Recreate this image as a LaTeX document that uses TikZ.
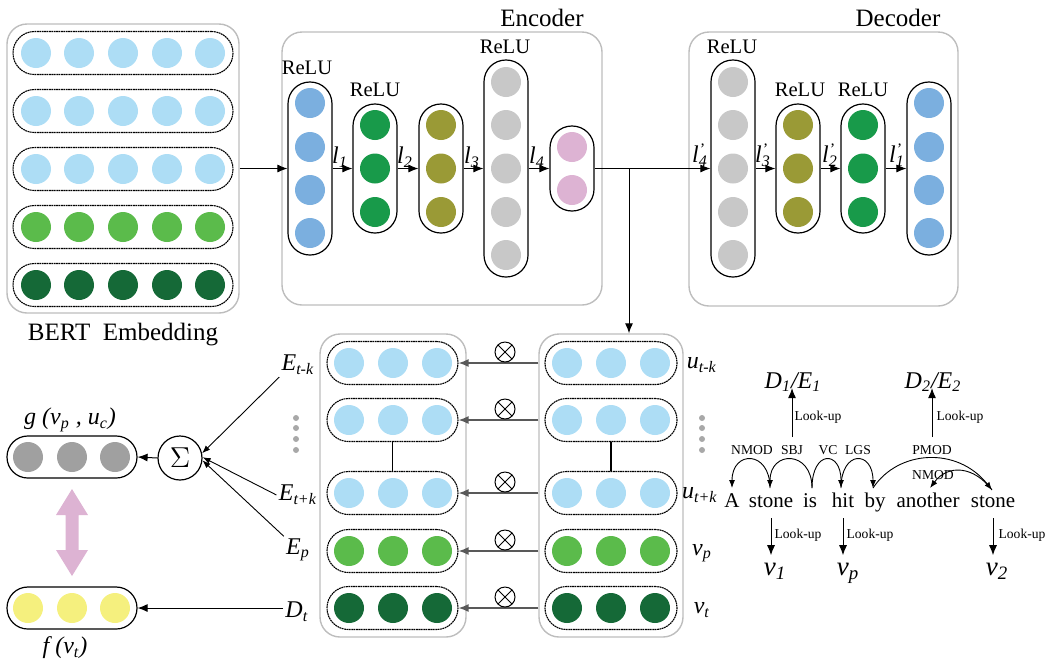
\documentclass[tikz,border=0pt]{standalone}
\usepackage{fontspec}
\setmainfont{Liberation Serif}
\usetikzlibrary{arrows.meta}
\newcommand\fsz[1]{\fontsize{#1}{#1}\selectfont}
\definecolor{lblue}{HTML}{ADDDF5}
\definecolor{lgreen}{HTML}{5BBB4B}
\definecolor{dgreen}{HTML}{156937}
\definecolor{encblue}{HTML}{7BAFDF}
\definecolor{encgreen}{HTML}{189A4A}
\definecolor{olive}{HTML}{9A9A36}
\definecolor{lgray}{HTML}{C8C8C8}
\definecolor{pinkc}{HTML}{DDB3D3}
\definecolor{ggray}{HTML}{A0A0A0}
\definecolor{yel}{HTML}{F5F07E}
\definecolor{boxgray}{HTML}{BDBDBD}
\definecolor{dotgray}{HTML}{A8A8A8}
\begin{document}
\begin{tikzpicture}[x=0.5pt,y=-0.5pt,
  ball/.style={circle,inner sep=0pt,minimum size=15pt,draw=none},
  vcaps/.style={draw,line width=0.6pt,rounded corners=10.9pt,minimum width=22pt,inner sep=0pt},
  hcaps/.style={draw,line width=0.55pt,dash pattern=on 0.9pt off 0.3pt,rounded corners=10.7pt,minimum height=21.5pt,inner sep=0pt},
  scaps/.style={draw,line width=0.6pt,rounded corners=10.4pt,minimum height=21pt,minimum width=65pt,inner sep=0pt},
  outer/.style={draw=boxgray,line width=0.7pt,rounded corners=10pt,inner sep=0pt},
  arr/.style={-{Latex[length=5pt,width=4pt]},line width=0.5pt},
  tarr/.style={-{Latex[length=4pt,width=3pt]},line width=0.45pt},
  relu/.style={font=\fsz{10.3},inner sep=0pt},
  ttl/.style={font=\fsz{12.5},inner sep=0pt},
  lab/.style={font=\fsz{12},inner sep=1pt},
  vlab/.style={font=\fsz{13.5},inner sep=1pt,anchor=base},
  dep/.style={font=\fsz{6.8},inner sep=1pt},
  look/.style={font=\fsz{6.8},inner sep=0pt},
  word/.style={font=\fsz{10.5},inner sep=1pt,anchor=base},
  otimes/.style={circle,draw,line width=0.5pt,minimum size=10pt,inner sep=0pt,
    path picture={\draw[line width=0.5pt] (path picture bounding box.north west) -- (path picture bounding box.south east)
      (path picture bounding box.north east) -- (path picture bounding box.south west);}},
  gdot/.style={circle,fill=dotgray,inner sep=0pt,minimum size=3pt}
]
\useasboundingbox (0,0) rectangle (1058,660);

% ---------------- BERT embedding ----------------
\node[outer,minimum width=116pt,minimum height=144.5pt] (embbox) at (123,168.5) {};
\foreach \r/\y/\c in {1/53/lblue,2/111/lblue,3/169/lblue,4/227/lgreen,5/285/dgreen}{
  \node[hcaps,minimum width=110pt] (embrow\r) at (123,\y) {};
  \foreach \x [count=\i] in {36,79,123,167,210}
    \node[ball,fill=\c] (emb\r-\i) at (\x,\y) {};
}
\node[ttl] (bert) at (123,335) {BERT\ \ Embedding};

% ---------------- Encoder ----------------
\node[outer,minimum width=160pt,minimum height=136.5pt] (encbox) at (442,168.5) {};
\node[ttl] (enclab) at (542,18) {Encoder};
\node[vcaps,minimum height=86.5pt] (ec1) at (310,168.5) {};
\foreach \y [count=\i] in {103,147,190,233} \node[ball,fill=encblue] (ec1d\i) at (310,\y) {};
\node[vcaps,minimum height=64.5pt] (ec2) at (375,168.5) {};
\foreach \y [count=\i] in {125,168.5,212} \node[ball,fill=encgreen] (ec2d\i) at (375,\y) {};
\node[vcaps,minimum height=64.5pt] (ec3) at (441,168.5) {};
\foreach \y [count=\i] in {125,168.5,212} \node[ball,fill=olive] (ec3d\i) at (441,\y) {};
\node[vcaps,minimum height=108.5pt] (ec4) at (506,168.5) {};
\foreach \y [count=\i] in {82,125,168.5,212,255} \node[ball,fill=lgray] (ec4d\i) at (506,\y) {};
\node[vcaps,minimum height=42.5pt] (ec5) at (572,168.5) {};
\foreach \y [count=\i] in {147,190} \node[ball,fill=pinkc] (ec5d\i) at (572,\y) {};
\node[relu] (er1) at (307,68) {ReLU};
\node[relu] (er2) at (375,90) {ReLU};
\node[relu] (er4) at (505,47) {ReLU};

\draw[arr] (embbox.east) -- (ec1.west);
\draw[arr] (ec1.east) -- (ec2.west);
\draw[arr] (ec2.east) -- (ec3.west);
\draw[arr] (ec3.east) -- (ec4.west);
\draw[arr] (ec4.east) -- (ec5.west);
\node[lab] (l1) at (340,157) {\textit{l}\textsubscript{\textit{1}}};
\node[lab] (l2) at (405,157) {\textit{l}\textsubscript{\textit{2}}};
\node[lab] (l3) at (472,157) {\textit{l}\textsubscript{\textit{3}}};
\node[lab] (l4) at (537,157) {\textit{l}\textsubscript{\textit{4}}};

% ---------------- Decoder ----------------
\node[outer,minimum width=134.5pt,minimum height=137pt] (decbox) at (823.5,169) {};
\node[ttl] (declab) at (898,18) {Decoder};
\node[vcaps,minimum height=108.5pt] (dc1) at (733,168.5) {};
\foreach \y [count=\i] in {82,125,168.5,212,255} \node[ball,fill=lgray] (dc1d\i) at (733,\y) {};
\node[vcaps,minimum height=64.5pt] (dc2) at (798,168.5) {};
\foreach \y [count=\i] in {125,168.5,212} \node[ball,fill=olive] (dc2d\i) at (798,\y) {};
\node[vcaps,minimum height=64.5pt] (dc3) at (863,168.5) {};
\foreach \y [count=\i] in {125,168.5,212} \node[ball,fill=encgreen] (dc3d\i) at (863,\y) {};
\node[vcaps,minimum height=86.5pt] (dc4) at (929,168.5) {};
\foreach \y [count=\i] in {103,147,190,233} \node[ball,fill=encblue] (dc4d\i) at (929,\y) {};
\node[relu] (dr1) at (732,47) {ReLU};
\node[relu] (dr2) at (800,90) {ReLU};
\node[relu] (dr3) at (863,90) {ReLU};

\coordinate (junc) at (629,168.5);
\draw[line width=0.5pt] (ec5.east) -- (junc);
\draw[arr] (junc) -- (dc1.west);
\draw[arr] (dc1.east) -- (dc2.west);
\draw[arr] (dc2.east) -- (dc3.west);
\draw[arr] (dc3.east) -- (dc4.west);
\node[lab] (lp4) at (700,155) {\textit{l}\rlap{\textsuperscript{\textit{'}}}\textsubscript{\textit{4}}};
\node[lab] (lp3) at (763,155) {\textit{l}\rlap{\textsuperscript{\textit{'}}}\textsubscript{\textit{3}}};
\node[lab] (lp2) at (830,155) {\textit{l}\rlap{\textsuperscript{\textit{'}}}\textsubscript{\textit{2}}};
\node[lab] (lp1) at (897,155) {\textit{l}\rlap{\textsuperscript{\textit{'}}}\textsubscript{\textit{1}}};

% ---------------- attention block ----------------
\node[outer,minimum width=73pt,minimum height=151.5pt] (ebox) at (393,485.5) {};
\node[outer,minimum width=72pt,minimum height=151.5pt] (ubox) at (611,485.5) {};
\draw[arr] (junc) -- (junc |- ubox.north);
\foreach \r/\y/\c in {1/363/lblue,2/420/lblue,3/493/lblue,4/551/lgreen,5/608/dgreen}{
  \node[hcaps,minimum width=65.5pt] (er\r) at (392.5,\y) {};
  \node[hcaps,minimum width=66pt] (ur\r) at (611,\y) {};
  \foreach \x [count=\i] in {349,393,437} \node[ball,fill=\c] (er\r-\i) at (\x,\y) {};
  \foreach \x [count=\i] in {567,611,655} \node[ball,fill=\c] (ur\r-\i) at (\x,\y) {};
  \draw[arr,draw=black!65,line width=0.7pt] (ubox.west |- ur\r) -- (er\r.east);
  \node[otimes] (ot\r) at (505,{\y-11}) {};
}
\draw[line width=0.9pt] (er2.south) -- (er3.north);
\draw[line width=0.9pt] (ur2.south) -- (ur3.north);

\node[lab] (utk) at (702,365) {\textit{u}\textsubscript{\textit{t-k}}};
\foreach \y [count=\i] in {418,428,439,450} \node[gdot] (udot\i) at (702,\y) {};
\node[lab] (utpk) at (700,495) {\textit{u}\textsubscript{\textit{t+k}}};
\node[lab] (vp) at (702,553) {\textit{v}\textsubscript{\textit{p}}};
\node[lab] (vt) at (702,610) {\textit{v}\textsubscript{\textit{t}}};

\node[lab] (Etk) at (298,365) {\textit{E}\textsubscript{\textit{t-k}}};
\foreach \y [count=\i] in {418,428,439,450} \node[gdot] (edot\i) at (296,\y) {};
\node[lab] (Etpk) at (298,495) {\textit{E}\textsubscript{\textit{t+k}}};
\node[lab] (Ep) at (298,550) {\textit{E}\textsubscript{\textit{p}}};
\node[lab] (Dt) at (297,612) {\textit{D}\textsubscript{\textit{t}}};

% ---------------- left part ----------------
\node[circle,draw,line width=0.6pt,minimum size=22pt,inner sep=0pt,font=\fsz{14}] (sig) at (180,458) {$\Sigma$};
\draw[tarr] (Etk.south west) -- (sig.12);
\draw[tarr] (Etpk.west) -- (sig.2);
\draw[tarr] (Ep.north west) -- (sig.-6);

\node[scaps] (gcap) at (72,457) {};
\foreach \x [count=\i] in {28,72,115} \node[ball,fill=ggray] (g\i) at (\x,457) {};
\node[lab] (glab) at (70,420) {\textit{g (v\textsubscript{p} , u\textsubscript{c})}};
\draw[arr] (sig.west) -- (gcap.east);

\node[scaps] (fcap) at (72,608) {};
\foreach \x [count=\i] in {28,72,115} \node[ball,fill=yel] (f\i) at (\x,608) {};
\node[lab] (flab) at (65,648) {\textit{f (v\textsubscript{t})}};
\draw[arr] (Dt.west |- fcap.east) -- (fcap.east);

\fill[pinkc] (72,489) -- (88,515) -- (78.5,515) -- (78.5,550) -- (88,550) -- (72,576)
  -- (56,550) -- (65.5,550) -- (65.5,515) -- (56,515) -- cycle;

% ---------------- dependency parse ----------------
\node[word] (wA) at (732,507) {A};
\node[word] (ws1) at (771,507) {stone};
\node[word] (wis) at (810,507) {is};
\node[word] (whit) at (843,507) {hit};
\node[word] (wby) at (875,507) {by};
\node[word] (wan) at (928,507) {another};
\node[word] (ws2) at (993,507) {stone};

\node[dep] (dn1) at (752,450) {NMOD};
\node[dep] (dsbj) at (792,450) {SBJ};
\node[dep] (dvc) at (828,450) {VC};
\node[dep] (dlgs) at (858,450) {LGS};
\node[dep] (dpmod) at (932,450) {PMOD};
\node[dep] (dn2) at (933,475) {NMOD};

\coordinate (tA) at (732,488);
\coordinate (ts1) at (770,488);
\coordinate (tis) at (812,488);
\coordinate (thit) at (841,488);
\coordinate (tby) at (873,488);
\coordinate (tan) at (930,488);
\coordinate (ts2) at (992,490);
\draw[tarr] (ts1) .. controls +(0,-38) and +(0,-38) .. (tA);
\draw[tarr] (tis) .. controls +(0,-38) and +(0,-38) .. (ts1);
\draw[tarr] (tis) .. controls +(0,-38) and +(0,-38) .. (thit);
\draw[tarr] (thit) .. controls +(0,-38) and +(0,-38) .. (tby);
\draw[tarr] (tby) .. controls +(25,-38) and +(-35,-44) .. (ts2);
\draw[tarr] (ts2) .. controls +(-18,-24) and +(18,-24) .. (tan);

\node[lab] (de1) at (793,382) {\textit{D}\textsubscript{\textit{1}}\textit{/E}\textsubscript{\textit{1}}};
\node[lab] (de2) at (933,382) {\textit{D}\textsubscript{\textit{2}}\textit{/E}\textsubscript{\textit{2}}};
\draw[arr] ([yshift=3pt]dsbj.north) -- ([yshift=3pt]dsbj.north |- de1.south);
\draw[arr] ([yshift=3pt]dpmod.north) -- ([yshift=3pt]dpmod.north |- de2.south);
\node[look] (lk1) at (818,417) {Look-up};
\node[look] (lk2) at (960,417) {Look-up};

\node[vlab] (v1) at (775,575) {\textit{v}\textsubscript{\textit{1}}};
\node[vlab] (vpp) at (848,575) {\textit{v}\textsubscript{\textit{p}}};
\node[vlab] (v2) at (997,575) {\textit{v}\textsubscript{\textit{2}}};
\coordinate (s1b) at ([yshift=-5.5pt]ws1.base);
\coordinate (hb) at ([yshift=-5.5pt]whit.base);
\coordinate (s2b) at ([yshift=-5.5pt]ws2.base);
\coordinate (v1t) at ([yshift=2.5pt]v1.north);
\coordinate (vpt) at ([yshift=2.5pt]vpp.north);
\coordinate (v2t) at ([yshift=2.5pt]v2.north);
\draw[arr] (s1b) -- (s1b |- v1t);
\draw[arr] (hb) -- (hb |- vpt);
\draw[arr] (s2b) -- (s2b |- v2t);
\node[look] (lk3) at (798,535) {Look-up};
\node[look] (lk4) at (870,535) {Look-up};
\node[look] (lk5) at (1022,535) {Look-up};
\end{tikzpicture}
\end{document}
